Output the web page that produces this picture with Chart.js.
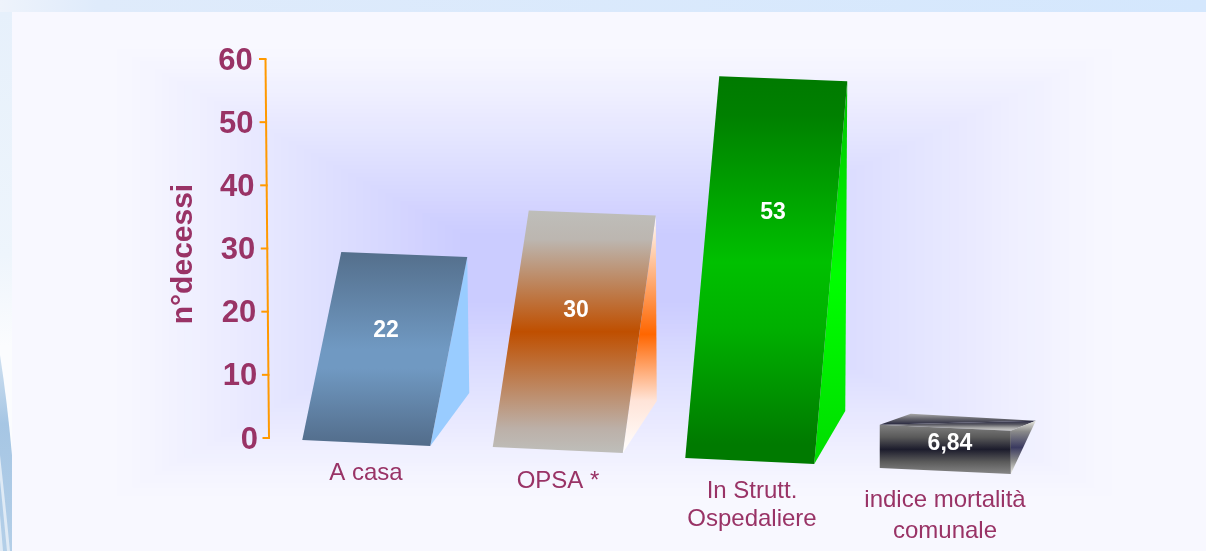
<!DOCTYPE html>
<html><head><meta charset="utf-8">
<style>html,body{margin:0;padding:0;background:#f8f8ff;overflow:hidden}#w{position:absolute;left:0;top:0;width:1206px;height:551px}</style>
<script src="https://cdn.jsdelivr.net/npm/chart.js@4/dist/chart.umd.min.js"></script>
</head><body><div id="w"><canvas id="c" width="1206" height="551"></canvas></div>
<script>
const categories = [["A casa"], ["OPSA *"], ["In Strutt.", "Ospedaliere"], ["indice mortalità", "comunale"]];
const values = [22, 30, 53, 6.84];
const yTitle = "n°decessi";

const FONT = '"Liberation Sans", Arial, sans-serif';
const PURPLE = '#993366';
// scene geometry of the tilted 3-D look (pixel offsets relative to the scale-derived bar)
const scene = [
  {bl:[-61,440], brx:128, lean:[39,49], topW:126, side:[39,-53],
   front:[[0,'#546f8c'],[.5,'#7099c2'],[.6,'#7099c2'],[1,'#526c8a']], sideC:[[0,'#99ccff'],[1,'#99ccff']], lab:[386,331], cat:[366,473]},
  {bl:[-63,447], brx:130, lean:[36,47], topW:127, side:[34,-52],
   front:[[0,'#bebeba'],[.12,'#bcb6b0'],[.5,'#bf4f00'],[.9,'#bcb0a8'],[1,'#bebeba']],
   sideC:[[0,'#ffffff'],[.5,'#ff6600'],[.78,'#ffe4d8'],[1,'#ffffff']], lab:[576,311], cat:[558,481]},
  {bl:[-63,458], brx:129, lean:[34,47], topW:128, side:[31,-53],
   front:[[0,'#007a00'],[.1,'#008000'],[.48,'#00c000'],[.65,'#00b000'],[.95,'#007a00'],[1,'#007a00']],
   sideC:[[0,'#00c000'],[.5,'#00ff00'],[1,'#00dd00']], lab:[773,213], cat:[752,491]},
  {bl:[-61,468], brx:131, lean:[0,0], topW:131, side:[25,-53], top:true,
   front:[[0,'#808080'],[.25,'#5a5a5a'],[.5,'#1c1c2c'],[.75,'#5a5a5a'],[1,'#868686']],
   sideC:[[0,'#e8e8e0'],[.2,'#8a8a8a'],[.5,'#3a3a60'],[.75,'#8a8a8a'],[1,'#f0f0e8']], lab:[950,444], cat:[945,500]}
];

function grad(ctx,y0,y1,stops){
  const g=ctx.createLinearGradient(0,y0,0,y1);
  stops.forEach(s=>g.addColorStop(s[0],s[1]));
  return g;
}
function poly(ctx,pts,fill){
  ctx.beginPath();pts.forEach((p,i)=>i?ctx.lineTo(p[0],p[1]):ctx.moveTo(p[0],p[1]));ctx.closePath();
  ctx.fillStyle=fill;ctx.fill();
}

const backdrop={id:'backdrop',beforeDraw(chart){
  const ctx=chart.ctx;ctx.save();
  // slide frame
  let g=ctx.createLinearGradient(0,0,1206,0);
  g.addColorStop(0,'#eef3fb');g.addColorStop(.08,'#dfebfb');g.addColorStop(1,'#d4e7fd');
  ctx.fillStyle=g;ctx.fillRect(0,0,1206,12);
  g=ctx.createLinearGradient(0,12,0,551);
  g.addColorStop(0,'#e6f0fb');g.addColorStop(.45,'#eef5fc');g.addColorStop(.62,'#fbfcfe');g.addColorStop(1,'#fbfcfe');
  ctx.fillStyle=g;ctx.fillRect(0,12,12,539);
  // streaks on the left strip
  g=ctx.createLinearGradient(0,355,0,551);
  g.addColorStop(0,'#cfe0f0');g.addColorStop(.35,'#a6c6e4');g.addColorStop(1,'#b4cfe8');
  ctx.fillStyle=g;
  ctx.beginPath();ctx.moveTo(0,355);ctx.quadraticCurveTo(7,400,12,455);ctx.lineTo(12,551);ctx.lineTo(0,551);ctx.closePath();ctx.fill();
  ctx.fillStyle='#dfeaf5';
  ctx.beginPath();ctx.moveTo(0,455);ctx.quadraticCurveTo(5,500,10,551);ctx.lineTo(7,551);ctx.quadraticCurveTo(3,510,0,480);ctx.closePath();ctx.fill();
  ctx.beginPath();ctx.moveTo(0,515);ctx.lineTo(3,551);ctx.lineTo(0,551);ctx.closePath();ctx.fill();
  // panel with a rectangular path glow
  ctx.fillStyle='#f8f8ff';ctx.fillRect(12,12,1194,539);
  const out=[110,45,1120,500], cx=590, cy=268, n=48;
  const c0=[248,248,255], c1=[203,204,255];
  for(let i=0;i<n;i++){
    const t=i/(n-1), e=Math.pow(t,1.15);
    const l=out[0]+(cx-130-out[0])*t, r=out[2]+(cx+130-out[2])*t;
    const u=out[1]+(cy-35-out[1])*t, b=out[3]+(cy+35-out[3])*t;
    ctx.fillStyle=`rgb(${c0.map((c,k)=>Math.round(c+(c1[k]-c)*e)).join(',')})`;
    ctx.fillRect(l,u,r-l,b-u);
  }
  ctx.restore();
}};

const bars3d={id:'bars3d',afterDatasetsDraw(chart){
  const ctx=chart.ctx, meta=chart.getDatasetMeta(0);
  ctx.save();
  meta.data.forEach((el,i)=>{
    const s=scene[i], h=el.base-el.y;
    const BL=[el.x+s.bl[0],s.bl[1]], BR=[BL[0]+s.brx,BL[1]+6];
    const TL=[BL[0]+s.lean[0],BL[1]-h-s.lean[1]], TR=[TL[0]+s.topW,TL[1]+5+(s.top?1:0)];
    const S=[BR[0]+s.side[0],BR[1]+s.side[1]];
    if(s.top){
      const TB=[TL[0]+31,TL[1]-11], TC=[TR[0]+25,TR[1]-10];
      poly(ctx,[TL,TB,TC],grad(ctx,TB[1],TL[1],[[0,'#a8a8a8'],[.45,'#66666e'],[1,'#24243c']]));
      poly(ctx,[TL,TC,TR],grad(ctx,TC[1],TR[1],[[0,'#2a2a44'],[.35,'#55555f'],[.7,'#a8a8a8'],[1,'#d0d0d0']]));
      poly(ctx,[TR,TC,BR],grad(ctx,TC[1],BR[1],s.sideC));
    }else{
      poly(ctx,[TR,S,BR],grad(ctx,TR[1],BR[1],s.sideC));
    }
    poly(ctx,[TL,TR,BR,BL],grad(ctx,TL[1],BR[1],s.front));
    ctx.fillStyle='#fff';ctx.font='bold 23px '+FONT;ctx.textAlign='center';ctx.textBaseline='middle';
    ctx.fillText(String(values[i]).replace('.',','),s.lab[0],s.lab[1]);
    ctx.fillStyle=PURPLE;ctx.font='24px '+FONT;
    categories[i].forEach((t,k)=>ctx.fillText(t,s.cat[0],s.cat[1]+k*(i==3?31:28)));
  });
  // leaning value axis
  const y=chart.scales.y, topY=y.getPixelForValue(60), botY=y.getPixelForValue(0);
  const lx=p=>269-3.5*(botY-p)/(botY-topY);
  ctx.strokeStyle='#ff9900';ctx.lineWidth=2;
  ctx.beginPath();ctx.moveTo(lx(topY),topY);ctx.lineTo(lx(botY),botY);ctx.stroke();
  y.ticks.forEach(t=>{const p=y.getPixelForValue(t.value);
    ctx.beginPath();ctx.moveTo(lx(p)+1,p);ctx.lineTo(lx(p)-6.5,p);ctx.stroke();});
  // axis title
  ctx.translate(184,254);ctx.rotate(-Math.PI/2);
  ctx.fillStyle=PURPLE;ctx.font='bold 30px '+FONT;ctx.textAlign='center';ctx.textBaseline='middle';
  ctx.fillText(yTitle,0,0);
  ctx.restore();
}};

class LeanScale extends Chart.LinearScale{
  _computeLabelItems(ca){
    const items=super._computeLabelItems(ca);
    const t0=this.getPixelForValue(0),t1=this.getPixelForValue(60);
    items.forEach(it=>{const p=it.options.translation[1];
      it.options.translation[0]=258-5.3*(t0-p)/(t0-t1);
      it.options.translation[1]=p+2;});
    return items;
  }
}
LeanScale.id='leanLinear';LeanScale.defaults=Chart.LinearScale.defaults;
Chart.register(LeanScale);

new Chart(document.getElementById('c'),{
  type:'bar',
  data:{labels:categories,datasets:[{data:values,backgroundColor:'rgba(0,0,0,0)',borderWidth:0,barPercentage:.664,categoryPercentage:1}]},
  options:{
    responsive:false,animation:false,
    layout:{padding:{left:0,right:169,top:59,bottom:113}},
    plugins:{legend:{display:false},tooltip:{enabled:false}},
    scales:{
      x:{display:false},
      y:{type:'leanLinear',min:0,max:60,
        afterFit(s){s.width=267;},
        grid:{display:false,drawTicks:false},border:{display:false},
        ticks:{stepSize:10,color:PURPLE,font:{family:FONT,size:31,weight:'bold'},padding:8}}
    }
  },
  plugins:[backdrop,bars3d]
});
</script></body></html>
